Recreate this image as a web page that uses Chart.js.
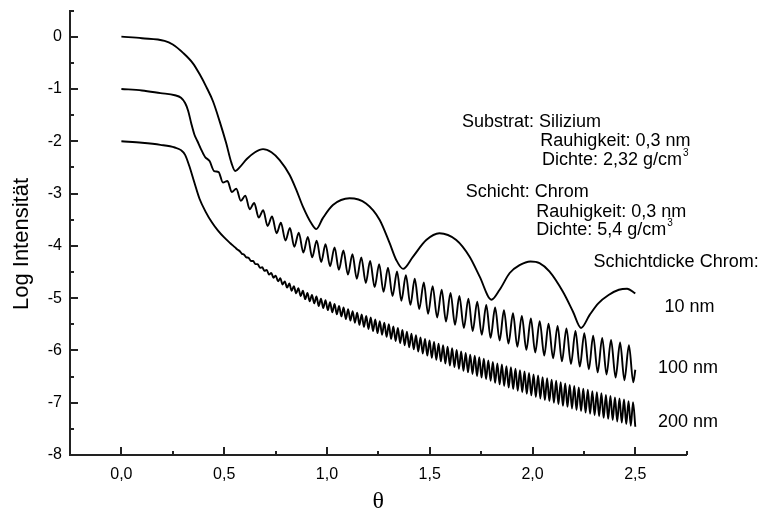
<!DOCTYPE html>
<html><head><meta charset="utf-8">
<script src="https://cdn.jsdelivr.net/npm/chart.js@4.4.0/dist/chart.umd.min.js"></script>
<style>html,body{margin:0;padding:0;background:#fff;}canvas{display:block;}</style>
</head><body>
<canvas id="c" width="761" height="516"></canvas>
<script>
// ---- data ----
const theta10 = [0,0.10,0.21,0.25,0.30,0.348,0.381,0.413,0.446,0.478,
  0.51,0.535,0.554,0.575,0.61,0.65,0.689,0.73,0.77,0.818,
  0.85,0.883,0.924,0.948,0.98,1.029,1.11,1.19,1.256,1.305,
  1.337,1.37,1.418,1.483,1.547,1.629,1.694,1.743,1.80,1.84,
  1.889,1.937,1.99,2.034,2.082,2.148,2.197,2.236,2.278,2.32,
  2.37,2.42,2.46,2.50];
const log10 = [0,-0.03,-0.08,-0.15,-0.31,-0.51,-0.72,-0.96,-1.24,-1.62,
  -2.04,-2.41,-2.57,-2.50,-2.34,-2.21,-2.15,-2.21,-2.36,-2.64,
  -2.92,-3.25,-3.57,-3.68,-3.47,-3.22,-3.09,-3.19,-3.50,-3.95,
  -4.27,-4.44,-4.21,-3.89,-3.76,-3.89,-4.21,-4.59,-5.03,-4.84,
  -4.52,-4.37,-4.30,-4.33,-4.49,-4.88,-5.26,-5.57,-5.32,-5.10,
  -4.94,-4.84,-4.82,-4.91];

const theta100 = [0,0.10,0.19,0.26,0.29,0.31,0.325,0.34,0.355,0.37,
  0.386,0.407,0.429,0.451,0.473,0.494,0.516,0.537,0.559,0.581,
  0.603,0.624,0.646,0.668,0.690,0.711,0.733,0.755,0.776,0.798,
  0.820,0.841,0.863,0.885,0.907,0.928,0.950,0.972,0.993,1.015,
  1.037,1.058,1.080,1.102,1.124,1.145,1.167,1.189,1.210,1.232,
  1.254,1.275,1.297,1.319,1.341,1.362,1.384,1.406,1.427,1.449,
  1.471,1.492,1.514,1.536,1.558,1.579,1.601,1.623,1.644,1.666,
  1.688,1.709,1.731,1.753,1.775,1.796,1.818,1.840,1.861,1.883,
  1.905,1.926,1.948,1.970,1.992,2.013,2.035,2.057,2.078,2.100,
  2.122,2.143,2.165,2.187,2.209,2.230,2.252,2.274,2.295,2.317,
  2.339,2.360,2.382,2.404,2.426,2.447,2.469,2.490,2.500];
const log100 = [-1.00,-1.03,-1.08,-1.12,-1.17,-1.27,-1.42,-1.66,-1.87,-2.00,
  -2.14,-2.30,-2.38,-2.57,-2.59,-2.79,-2.76,-2.97,-2.91,-3.14,
  -3.04,-3.30,-3.18,-3.46,-3.32,-3.62,-3.44,-3.76,-3.56,-3.90,
  -3.66,-4.02,-3.75,-4.13,-3.83,-4.22,-3.90,-4.31,-3.97,-4.39,
  -4.03,-4.46,-4.09,-4.55,-4.16,-4.63,-4.22,-4.71,-4.29,-4.79,
  -4.35,-4.88,-4.42,-4.96,-4.49,-5.05,-4.56,-5.13,-4.63,-5.21,
  -4.70,-5.30,-4.77,-5.37,-4.84,-5.45,-4.90,-5.51,-4.96,-5.57,
  -5.01,-5.63,-5.07,-5.70,-5.13,-5.76,-5.18,-5.81,-5.23,-5.87,
  -5.29,-5.93,-5.34,-5.99,-5.39,-6.04,-5.44,-6.10,-5.49,-6.15,
  -5.53,-6.21,-5.58,-6.26,-5.63,-6.31,-5.67,-6.36,-5.72,-6.42,
  -5.76,-6.46,-5.80,-6.52,-5.85,-6.57,-5.90,-6.61,-6.37];

const theta200 = [0,0.10,0.19,0.26,0.29,0.31,0.33,0.355,0.38,0.41,0.44,0.47,0.50,0.53,
  0.553,0.564,0.575,0.586,0.597,0.608,0.619,0.630,0.641,0.652,
  0.663,0.674,0.685,0.696,0.707,0.718,0.729,0.740,0.751,0.762,
  0.773,0.784,0.795,0.806,0.817,0.828,0.839,0.850,0.861,0.872,
  0.883,0.894,0.905,0.916,0.927,0.938,0.949,0.960,0.971,0.982,
  0.993,1.004,1.015,1.026,1.037,1.048,1.059,1.070,1.081,1.092,
  1.103,1.114,1.125,1.136,1.147,1.158,1.169,1.180,1.191,1.202,
  1.213,1.224,1.235,1.246,1.257,1.268,1.279,1.290,1.301,1.312,
  1.323,1.334,1.345,1.356,1.367,1.378,1.389,1.400,1.411,1.422,
  1.433,1.444,1.455,1.466,1.477,1.488,1.499,1.510,1.521,1.532,
  1.543,1.554,1.565,1.576,1.587,1.598,1.609,1.620,1.631,1.642,
  1.653,1.664,1.675,1.686,1.697,1.708,1.719,1.730,1.741,1.752,
  1.763,1.774,1.785,1.796,1.807,1.818,1.829,1.840,1.851,1.862,
  1.873,1.884,1.895,1.906,1.917,1.928,1.939,1.950,1.961,1.972,
  1.983,1.994,2.005,2.016,2.027,2.038,2.049,2.060,2.071,2.082,
  2.093,2.104,2.115,2.126,2.137,2.148,2.159,2.170,2.181,2.192,
  2.203,2.214,2.225,2.236,2.247,2.258,2.269,2.280,2.291,2.302,
  2.313,2.324,2.335,2.346,2.357,2.368,2.379,2.390,2.401,2.412,
  2.423,2.434,2.445,2.456,2.467,2.478,2.489,2.500];
const log200 = [-2.00,-2.03,-2.07,-2.12,-2.17,-2.26,-2.47,-2.79,-3.10,-3.35,-3.55,-3.71,-3.84,-3.95,
  -4.03,-4.07,-4.10,-4.15,-4.17,-4.22,-4.23,-4.29,-4.29,-4.35,
  -4.35,-4.42,-4.41,-4.48,-4.46,-4.55,-4.52,-4.61,-4.57,-4.68,
  -4.62,-4.74,-4.68,-4.80,-4.72,-4.86,-4.77,-4.91,-4.81,-4.96,
  -4.86,-5.02,-4.90,-5.06,-4.94,-5.10,-4.97,-5.15,-5.01,-5.19,
  -5.04,-5.23,-5.08,-5.27,-5.11,-5.31,-5.15,-5.35,-5.18,-5.40,
  -5.21,-5.43,-5.25,-5.47,-5.28,-5.51,-5.31,-5.55,-5.34,-5.59,
  -5.37,-5.63,-5.41,-5.67,-5.44,-5.70,-5.47,-5.74,-5.50,-5.78,
  -5.54,-5.82,-5.57,-5.86,-5.61,-5.90,-5.64,-5.94,-5.68,-5.98,
  -5.71,-6.02,-5.75,-6.06,-5.78,-6.10,-5.81,-6.14,-5.84,-6.18,
  -5.87,-6.21,-5.90,-6.25,-5.93,-6.29,-5.96,-6.32,-5.99,-6.35,
  -6.02,-6.39,-6.05,-6.42,-6.08,-6.45,-6.10,-6.49,-6.13,-6.52,
  -6.16,-6.55,-6.19,-6.58,-6.22,-6.62,-6.25,-6.65,-6.27,-6.68,
  -6.30,-6.71,-6.32,-6.74,-6.35,-6.77,-6.38,-6.80,-6.40,-6.83,
  -6.43,-6.86,-6.46,-6.89,-6.48,-6.92,-6.51,-6.95,-6.53,-6.97,
  -6.56,-7.00,-6.58,-7.03,-6.61,-7.06,-6.63,-7.08,-6.66,-7.11,
  -6.68,-7.14,-6.71,-7.16,-6.73,-7.19,-6.75,-7.21,-6.78,-7.24,
  -6.80,-7.26,-6.82,-7.29,-6.85,-7.31,-6.87,-7.33,-6.90,-7.36,
  -6.92,-7.38,-6.94,-7.41,-6.97,-7.44,-6.99,-7.46];

const xTicks = [0, 0.5, 1, 1.5, 2, 2.5];
const xMinorTicks = [0.25, 0.75, 1.25, 1.75, 2.25, 2.75];
const yTicks = [-8, -7, -6, -5, -4, -3, -2, -1, 0];
const yMinorTicks = [-7.5, -6.5, -5.5, -4.5, -3.5, -2.5, -1.5, -0.5, 0.5];
const xTitle = 'θ';
const yTitle = 'Log Intensität';
const noteTexts = ['Substrat: Silizium', 'Rauhigkeit: 0,3 nm', 'Dichte: 2,32 g/cm', 'Schicht: Chrom',
  'Rauhigkeit: 0,3 nm', 'Dichte: 5,4 g/cm', 'Schichtdicke Chrom:', '10 nm', '100 nm', '200 nm'];
const noteSup = [null, null, '3', null, null, '3', null, null, null, null];
// anchor (theta, log) of each note's left baseline
const noteX = [1.657, 2.038, 2.046, 1.675, 2.018, 2.018, 2.297, 2.642, 2.610, 2.610];
const noteY = [-1.721, -2.084, -2.453, -3.059, -3.453, -3.792, -4.409, -5.258, -6.436, -7.457];

// ---- chart ----
const mk = (xs, ys) => xs.map((v, i) => ({x: v, y: ys[i]}));
const AX = '#222';
const SANS = '"Liberation Sans", Arial, sans-serif';

const overlay = {
  id: 'overlay',
  afterDraw(chart) {
    const {ctx, chartArea: a, scales: {x, y}} = chart;
    ctx.save();
    ctx.strokeStyle = AX; ctx.lineWidth = 2; ctx.lineCap = 'butt';
    ctx.beginPath();
    xTicks.forEach(v => { const p = Math.round(x.getPixelForValue(v)); ctx.moveTo(p, a.bottom); ctx.lineTo(p, a.bottom - 8); });
    xMinorTicks.forEach(v => { const p = Math.round(x.getPixelForValue(v)); ctx.moveTo(p, a.bottom); ctx.lineTo(p, a.bottom - 4); });
    yTicks.forEach(v => { const p = Math.round(y.getPixelForValue(v)); ctx.moveTo(a.left, p); ctx.lineTo(a.left + 8, p); });
    yMinorTicks.forEach(v => { const p = Math.round(y.getPixelForValue(v)); ctx.moveTo(a.left, p); ctx.lineTo(a.left + 4, p); });
    ctx.stroke();

    ctx.fillStyle = '#000';
    ctx.font = '24px "Liberation Serif", "Times New Roman", serif';
    ctx.textAlign = 'center'; ctx.textBaseline = 'middle';
    ctx.fillText(xTitle, (a.left + a.right) / 2, 502);

    ctx.save();
    ctx.translate(22, 244); ctx.rotate(-Math.PI / 2);
    ctx.font = '22px ' + SANS;
    ctx.fillText(yTitle, 0, 0);
    ctx.restore();

    ctx.textAlign = 'left'; ctx.textBaseline = 'alphabetic';
    noteTexts.forEach((t, i) => {
      const px = x.getPixelForValue(noteX[i]), py = y.getPixelForValue(noteY[i]);
      ctx.font = '18px ' + SANS;
      ctx.fillText(t, px, py);
      if (noteSup[i]) {
        const w = ctx.measureText(t).width;
        ctx.font = '10px ' + SANS;
        ctx.fillText(noteSup[i], px + w + 1, py - 9);
      }
    });
    ctx.restore();
  }
};

const ds = (xs, ys) => ({
  data: mk(xs, ys), showLine: true, borderColor: '#000', borderWidth: 1.9,
  pointRadius: 0, pointHoverRadius: 0, fill: false, cubicInterpolationMode: 'monotone',
  borderJoinStyle: 'round'
});

const noPad = s => { s.paddingTop = 0; s.paddingBottom = 0; s.paddingLeft = 0; s.paddingRight = 0; };

new Chart(document.getElementById('c'), {
  type: 'scatter',
  data: { datasets: [ds(theta10, log10), ds(theta100, log100), ds(theta200, log200)] },
  options: {
    responsive: false, animation: false, devicePixelRatio: 1,
    layout: { padding: { left: 0, top: 10.5, right: 74.3, bottom: 0 } },
    plugins: { legend: { display: false }, tooltip: { enabled: false } },
    scales: {
      x: {
        type: 'linear', min: -0.25, max: 2.75,
        afterBuildTicks: s => { s.ticks = xTicks.map(v => ({value: v})); },
        afterFit: s => { s.height = 61; noPad(s); },
        grid: { display: false, drawTicks: false },
        border: { display: true, color: AX, width: 2 },
        ticks: { color: '#000', padding: 10, font: { family: SANS, size: 16 }, maxRotation: 0,
          callback: v => v.toFixed(1).replace('.', ',') }
      },
      y: {
        type: 'linear', min: -8, max: 0.5,
        afterBuildTicks: s => { s.ticks = yTicks.map(v => ({value: v})); },
        afterFit: s => { s.width = 70; noPad(s); },
        grid: { display: false, drawTicks: false },
        border: { display: true, color: AX, width: 2 },
        ticks: { color: '#000', padding: 8, font: { family: SANS, size: 16 },
          callback: v => String(v) }
      }
    }
  },
  plugins: [overlay]
});
</script>
</body></html>
